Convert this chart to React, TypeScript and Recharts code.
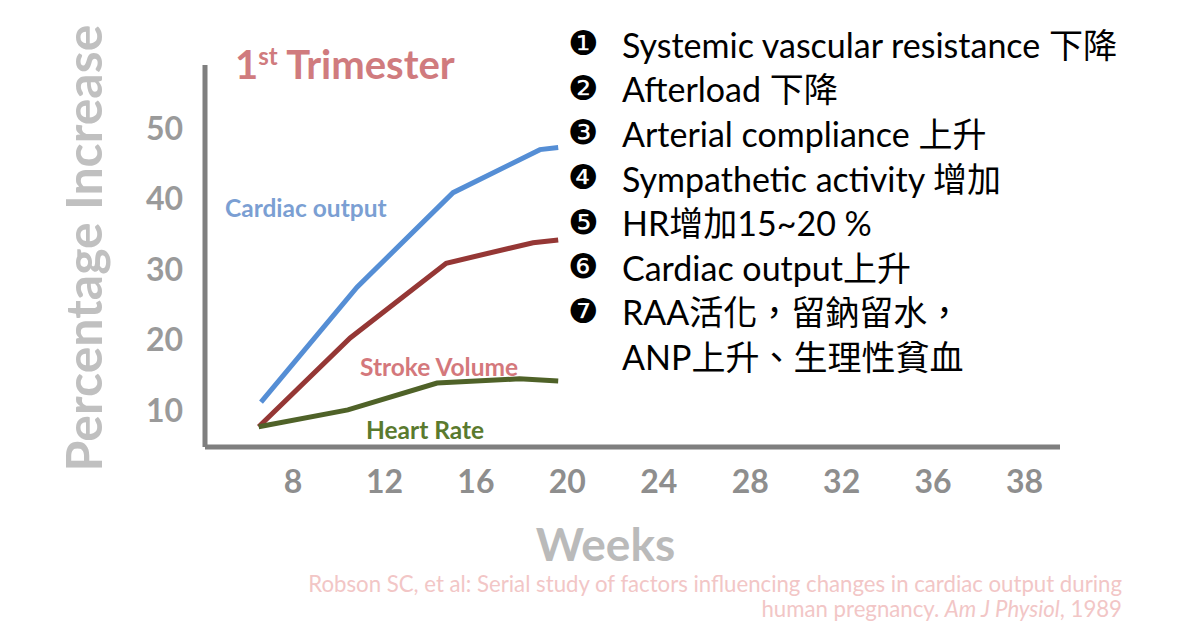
import React from 'react';
import { LineChart, Line, XAxis, YAxis, Label } from 'recharts';

const cardiacWeeks = [6.6, 10.8, 15.0, 18.8, 19.6];
const cardiacOutput = [11.2, 27.5, 40.9, 47.0, 47.3];

const strokeWeeks = [6.5, 10.5, 14.7, 18.5, 19.6];
const strokeVolume = [7.7, 20.3, 30.9, 33.8, 34.2];

const rateWeeks = [6.5, 10.4, 14.3, 17.9, 19.6];
const heartRate = [7.7, 10.1, 13.9, 14.5, 14.2];

// the last tick sits one full step after 36 but is labelled 38 in the original
const xTicks = [8, 12, 16, 20, 24, 28, 32, 36, 40];
const xTickLabels = ['8', '12', '16', '20', '24', '28', '32', '36', '38'];
const yTicks = [10, 20, 30, 40, 50];

const notes = [
    { bullet: '❶', text: 'Systemic vascular resistance 下降' },
    { bullet: '❷', text: 'Afterload 下降' },
    { bullet: '❸', text: 'Arterial compliance 上升' },
    { bullet: '❹', text: 'Sympathetic activity 增加' },
    { bullet: '❺', text: 'HR增加15~20 %' },
    { bullet: '❻', text: 'Cardiac output上升' },
    { bullet: '❼', text: 'RAA活化，留鈉留水，' },
    { bullet: '', text: 'ANP上升、生理性貧血' },
];

const toPoints = (weeks: number[], values: number[]) =>
    weeks.map((w, i) => ({ week: w, value: values[i] }));

const FONT = "Lato, 'Noto Sans CJK TC', 'DejaVu Sans', sans-serif";

const tickStyle = {
    fill: '#8e8e8e',
    fontSize: 32,
    fontWeight: 700,
    fontFamily: FONT,
};

const seriesLabel = {
    position: 'absolute' as const,
    lineHeight: '28px',
    fontSize: 24.5,
    fontWeight: 700,
    whiteSpace: 'nowrap' as const,
};

export default function App() {
    return (
        <div
            style={{
                position: 'absolute',
                left: 0,
                top: 0,
                width: 1200,
                height: 628,
                background: '#fff',
                fontFamily: FONT,
            }}
        >
            <LineChart
                width={1200}
                height={628}
                margin={{ top: 65, right: 140, left: 0, bottom: 51 }}
            >
                <XAxis
                    type="number"
                    dataKey="week"
                    domain={[4.15, 41.55]}
                    ticks={xTicks}
                    tickFormatter={(v: number) => xTickLabels[xTicks.indexOf(v)] ?? ''}
                    allowDataOverflow
                    height={130}
                    axisLine={{ stroke: '#7f7f7f', strokeWidth: 5 }}
                    tickLine={false}
                    tickMargin={17}
                    tick={tickStyle}
                >
                    <Label
                        value="Weeks"
                        position="insideBottom"
                        offset={16}
                        dx={-27}
                        style={{ fill: '#bababa', fontSize: 46, fontWeight: 700, fontFamily: FONT }}
                    />
                </XAxis>
                <YAxis
                    type="number"
                    domain={[4.84, 59]}
                    ticks={yTicks}
                    allowDataOverflow
                    width={205}
                    axisLine={{ stroke: '#7f7f7f', strokeWidth: 5 }}
                    tickLine={false}
                    tickMargin={16}
                    tick={{ ...tickStyle, fill: '#9a9a9a' }}
                >
                    <Label
                        value="Percentage Increase"
                        angle={-90}
                        position="insideLeft"
                        offset={84}
                        dy={-8}
                        style={{
                            textAnchor: 'middle',
                            fill: '#c0c0c0',
                            fontSize: 50,
                            fontWeight: 700,
                            fontFamily: FONT,
                        }}
                    />
                </YAxis>
                <Line
                    data={toPoints(cardiacWeeks, cardiacOutput)}
                    dataKey="value"
                    type="linear"
                    stroke="#558ed5"
                    strokeWidth={5}
                    dot={false}
                    isAnimationActive={false}
                />
                <Line
                    data={toPoints(strokeWeeks, strokeVolume)}
                    dataKey="value"
                    type="linear"
                    stroke="#953735"
                    strokeWidth={5}
                    dot={false}
                    isAnimationActive={false}
                />
                <Line
                    data={toPoints(rateWeeks, heartRate)}
                    dataKey="value"
                    type="linear"
                    stroke="#4f6228"
                    strokeWidth={5}
                    dot={false}
                    isAnimationActive={false}
                />
            </LineChart>

            {/* title */}
            <div
                style={{
                    position: 'absolute',
                    left: 235,
                    top: 41,
                    lineHeight: '46px',
                    fontSize: 40,
                    fontWeight: 700,
                    color: '#d07b7e',
                    whiteSpace: 'nowrap',
                }}
            >
                1<sup style={{ fontSize: 24, verticalAlign: 'top', lineHeight: '30px' }}>st</sup> Trimester
            </div>

            {/* series labels */}
            <div style={{ ...seriesLabel, left: 225, top: 194, color: '#7b9fd3' }}>Cardiac output</div>
            <div style={{ ...seriesLabel, left: 360, top: 353, color: '#d4787c' }}>Stroke Volume</div>
            <div style={{ ...seriesLabel, left: 366, top: 416, color: '#5a7a2e' }}>Heart Rate</div>

            {/* notes on the right */}
            <div style={{ position: 'absolute', left: 568, top: 21, color: '#000' }}>
                {notes.map((n, i) => (
                    <div
                        key={i}
                        style={{ display: 'flex', alignItems: 'center', height: 44.6, whiteSpace: 'nowrap' }}
                    >
                        <span style={{ width: 54, fontSize: 34, fontFamily: "'DejaVu Sans', sans-serif" }}>
                            {n.bullet}
                        </span>
                        <span style={{ fontSize: 34 }}>{n.text}</span>
                    </div>
                ))}
            </div>

            {/* citation */}
            <div
                style={{
                    position: 'absolute',
                    right: 78,
                    top: 571,
                    textAlign: 'right',
                    fontSize: 22.2,
                    lineHeight: '25px',
                    color: '#f2c6c6',
                    whiteSpace: 'nowrap',
                }}
            >
                Robson SC, et al: Serial study of factors influencing changes in cardiac output during
                <br />
                human pregnancy. <i>Am J Physiol</i>, 1989
            </div>
        </div>
    );
}
